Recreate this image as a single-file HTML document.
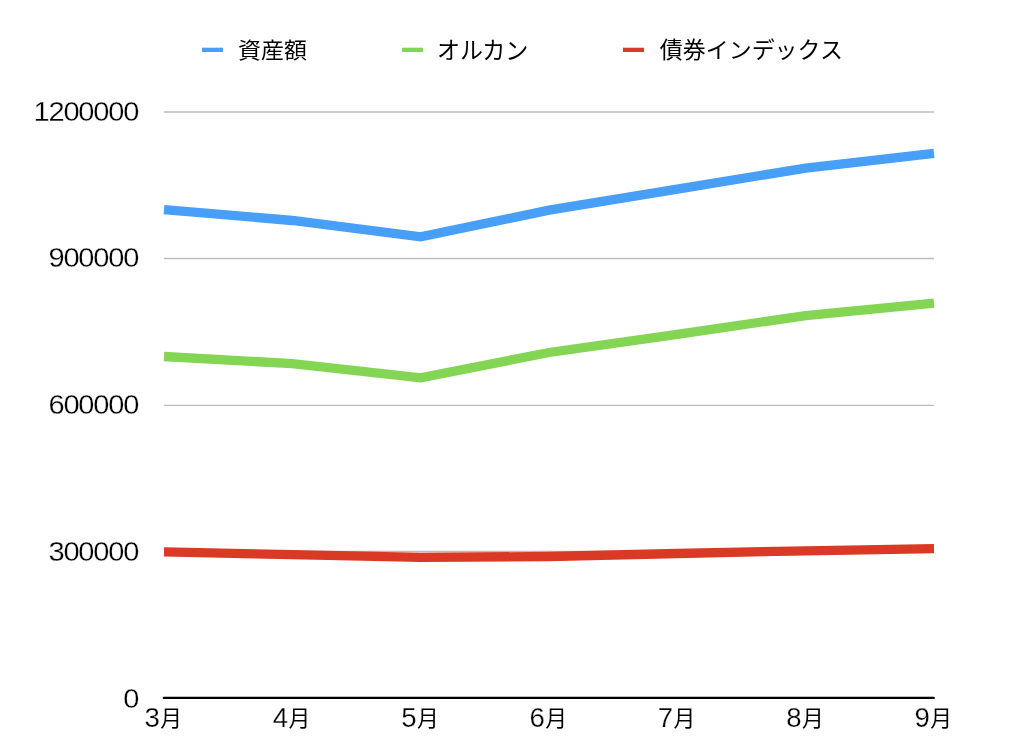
<!DOCTYPE html>
<html lang="ja">
<head>
<meta charset="utf-8">
<title>資産額チャート</title>
<style>
html,body{margin:0;padding:0;background:#ffffff;}
body{width:1024px;height:754px;overflow:hidden;}
svg{display:block;}
text{font-family:"Liberation Sans","Noto Sans CJK JP",sans-serif;fill:#000000;}
.d{font-size:26.9px;letter-spacing:-1.08px;}
.k{font-size:23.0px;}
.m{font-size:27.6px;}
.q{font-size:21.8px;}
.d,.m{stroke:#ffffff;stroke-width:0.25px;}
</style>
</head>
<body>
<svg width="1024" height="754" viewBox="0 0 1024 754">
<rect x="0" y="0" width="1024" height="754" fill="#ffffff"/>

<g stroke="#bdbdbd" stroke-width="1.4" fill="none">
<line x1="164" y1="112.0" x2="934" y2="112.0"/>
<line x1="164" y1="258.5" x2="934" y2="258.5"/>
<line x1="164" y1="405.35" x2="934" y2="405.35"/>
<line x1="164" y1="551.5" x2="934" y2="551.5"/>
</g>
<rect x="202" y="47.7" width="21" height="4.3" fill="#479ff7"/>
<text class="k" transform="translate(238.0,58.0) scale(1,0.94)" x="0" y="0">資産額</text>
<rect x="402" y="47.7" width="21" height="4.3" fill="#83d553"/>
<text class="k" transform="translate(437.0,59) scale(1,1.035)" x="0" y="0">オルカン</text>
<rect x="623" y="47.7" width="21" height="4.3" fill="#da3926"/>
<text class="k" transform="translate(659.7,58.3) scale(1,0.97)" x="0" y="0">債券インデックス</text>
<text class="d" transform="translate(138.3,121) scale(1.08,1)" x="0" y="0" text-anchor="end">1200000</text>
<text class="d" transform="translate(138.3,267) scale(1.08,1)" x="0" y="0" text-anchor="end">900000</text>
<text class="d" transform="translate(138.3,414) scale(1.08,1)" x="0" y="0" text-anchor="end">600000</text>
<text class="d" transform="translate(138.3,561) scale(1.08,1)" x="0" y="0" text-anchor="end">300000</text>
<text class="d" transform="translate(138.3,708) scale(1.08,1)" x="0" y="0" text-anchor="end">0</text>
<polyline points="164.00,209.70 292.33,220.50 420.67,236.90 549.00,210.10 677.33,189.10 805.67,168.05 934.00,153.45" fill="none" stroke="#479ff7" stroke-width="9.3" stroke-linejoin="miter" stroke-linecap="butt"/>
<polyline points="164.00,356.50 292.33,363.60 420.67,377.80 549.00,352.50 677.33,334.30 805.67,315.60 934.00,303.05" fill="none" stroke="#83d553" stroke-width="9.3" stroke-linejoin="miter" stroke-linecap="butt"/>
<polyline points="164.00,551.80 292.33,554.70 420.67,557.40 549.00,556.50 677.33,553.50 805.67,550.80 934.00,548.70" fill="none" stroke="#da3926" stroke-width="9.3" stroke-linejoin="miter" stroke-linecap="butt"/>
<line x1="163.9" y1="697.9" x2="933.7" y2="697.9" stroke="#000000" stroke-width="2.4" stroke-linecap="round"/>
<text y="727"><tspan class="m" x="159.85" text-anchor="end">3</tspan><tspan class="q" x="160.25" y="726" text-anchor="start">月</tspan></text>
<text y="727"><tspan class="m" x="288.18" text-anchor="end">4</tspan><tspan class="q" x="288.58" y="726" text-anchor="start">月</tspan></text>
<text y="727"><tspan class="m" x="416.52" text-anchor="end">5</tspan><tspan class="q" x="416.92" y="726" text-anchor="start">月</tspan></text>
<text y="727"><tspan class="m" x="544.85" text-anchor="end">6</tspan><tspan class="q" x="545.25" y="726" text-anchor="start">月</tspan></text>
<text y="727"><tspan class="m" x="673.18" text-anchor="end">7</tspan><tspan class="q" x="673.58" y="726" text-anchor="start">月</tspan></text>
<text y="727"><tspan class="m" x="801.52" text-anchor="end">8</tspan><tspan class="q" x="801.92" y="726" text-anchor="start">月</tspan></text>
<text y="727"><tspan class="m" x="929.85" text-anchor="end">9</tspan><tspan class="q" x="930.25" y="726" text-anchor="start">月</tspan></text>
</svg>
</body>
</html>
